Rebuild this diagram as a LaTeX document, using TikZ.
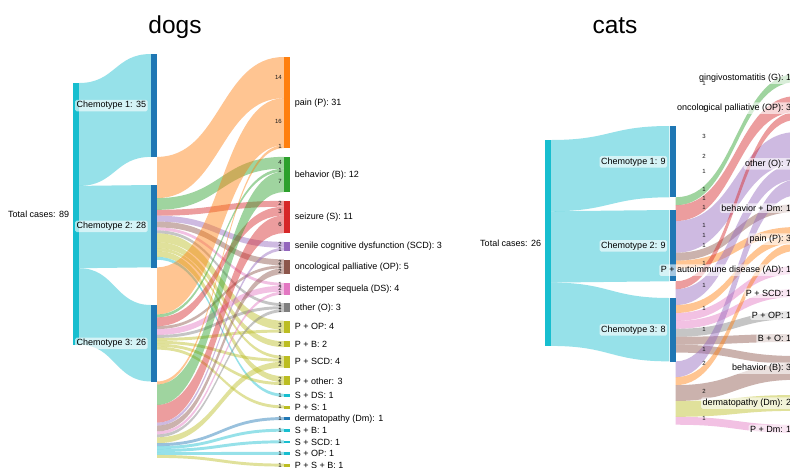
\documentclass[tikz,border=0pt]{standalone}
\usepackage{fontspec}
\setmainfont{Liberation Sans}
\usetikzlibrary{calc}

\definecolor{pblue}{HTML}{1F77B4}
\definecolor{porange}{HTML}{FF7F0E}
\definecolor{pgreen}{HTML}{2CA02C}
\definecolor{pred}{HTML}{D62728}
\definecolor{ppurple}{HTML}{9467BD}
\definecolor{pbrown}{HTML}{8C564B}
\definecolor{ppink}{HTML}{E377C2}
\definecolor{pgray}{HTML}{7F7F7F}
\definecolor{polive}{HTML}{BCBD22}
\definecolor{pcyan}{HTML}{17BECF}

\pgfdeclarelayer{links}
\pgfsetlayers{links,main}

\tikzset{
  bar/.style={inner sep=0pt, minimum width=6pt, anchor=north},
  lab/.style={font=\fontsize{9}{10}\selectfont, fill=white, fill opacity=.6, text opacity=1, rounded corners=1.5pt, inner sep=1.5pt},
  val/.style={font=\fontsize{6}{6}\selectfont, inner sep=.4pt, text=black!90},
  ttl/.style={font=\fontsize{24.5}{26}\selectfont, anchor=base, inner sep=0pt}
}

\newif\ifshowval
% band from #1 to #2, value #3, colour #4
\newcommand{\flow}[4]{%
  \pgfmathsetmacro{\ya}{\csname off#1\endcsname}%
  \pgfmathsetmacro{\za}{\csname off#2\endcsname}%
  \pgfmathsetmacro{\yb}{\ya+#3*\pxu}%
  \pgfmathsetmacro{\zb}{\za+#3*\pxu}%
  \expandafter\xdef\csname off#1\endcsname{\yb}%
  \expandafter\xdef\csname off#2\endcsname{\zb}%
  \coordinate (s1) at ($(#1.north east)+(0,\ya)$);
  \coordinate (s2) at ($(#1.north east)+(0,\yb)$);
  \coordinate (t1) at ($(#2.north west)+(0,\za)$);
  \coordinate (t2) at ($(#2.north west)+(0,\zb)$);
  \coordinate (m) at ($(s1)!.5!(t1)$);
  \begin{pgfonlayer}{links}
  \fill[#4, fill opacity=.45] (s1) .. controls (m |- s1) and (m |- t1) .. (t1)
    -- (t2) .. controls (m |- t2) and (m |- s2) .. (s2) -- cycle;
  \end{pgfonlayer}
  \ifshowval \node[val, anchor=east] (v#1#2) at ($(t1)!.5!(t2)+(-1.5,0)$) {#3};\fi
}

\begin{document}
\begin{tikzpicture}[x=1pt, y=-1pt]
\useasboundingbox (0,0) rectangle (790,467);
\begin{pgfonlayer}{links}
\fill[white] (0,0) rectangle (790,467);
\end{pgfonlayer}

%% dogs
\def\pxu{2.94}
\showvaltrue
\node[ttl] (tdogs) at (175,33) {dogs};

\foreach \nd/\val/\col/\xx/\ytop in {dtot/89/pcyan/76/83, dch1/35/pblue/154/54,
    dch2/28/pblue/154/185, dch3/26/pblue/154/305} {
  \node[bar, fill=\col, minimum height=\val*\pxu] (\nd) at (\xx,\ytop) {};
  \expandafter\xdef\csname off\nd\endcsname{0}
}

\gdef\cum{0}
\foreach \nd/\val/\col/\txt [count=\i from 0] in {
    dP/31/porange/pain (P): 31,
    dB/12/pgreen/behavior (B): 12,
    dS/11/pred/seizure (S): 11,
    dSCD/3/ppurple/senile cognitive dysfunction (SCD): 3,
    dOP/5/pbrown/oncological palliative (OP): 5,
    dDS/4/ppink/distemper sequela (DS): 4,
    dO/3/pgray/other (O): 3,
    dPOP/4/polive/P + OP: 4,
    dPB/2/polive/P + B: 2,
    dPSCD/4/polive/P + SCD: 4,
    dPO/3/polive/P + other: 3,
    dSDS/1/pcyan/S + DS: 1,
    dPS/1/polive/P + S: 1,
    dDm/1/pblue/dermatopathy (Dm): 1,
    dSB/1/pcyan/S + B: 1,
    dSSCD/1/pcyan/S + SCD: 1,
    dSOP/1/pcyan/S + OP: 1,
    dPSB/1/polive/P + S + B: 1} {
  \pgfmathsetmacro{\ytop}{57+\cum*\pxu+\i*8.7}
  \node[bar, fill=\col, minimum height=\val*\pxu] (\nd) at (287,\ytop) {};
  \node[lab, anchor=west] (l\nd) at ($(\nd.east)+(3,0)$) {\txt};
  \expandafter\xdef\csname off\nd\endcsname{0}
  \pgfmathsetmacro{\newcum}{\cum+\val}
  \xdef\cum{\newcum}
}

\showvalfalse
\flow{dtot}{dch1}{35}{pcyan}
\flow{dtot}{dch2}{28}{pcyan}
\flow{dtot}{dch3}{26}{pcyan}
\showvaltrue
% chemotype 1
\flow{dch1}{dP}{14}{porange}
\flow{dch1}{dB}{4}{pgreen}
\flow{dch1}{dS}{2}{pred}
\flow{dch1}{dSCD}{2}{ppurple}
\flow{dch1}{dOP}{2}{pbrown}
\flow{dch1}{dDS}{1}{ppink}
\flow{dch1}{dO}{1}{pgray}
\flow{dch1}{dPOP}{3}{polive}
\flow{dch1}{dPB}{2}{polive}
\flow{dch1}{dPSCD}{1}{polive}
\flow{dch1}{dPO}{2}{polive}
\flow{dch1}{dSDS}{1}{pcyan}
% chemotype 2
\flow{dch2}{dP}{16}{porange}
\flow{dch2}{dB}{1}{pgreen}
\flow{dch2}{dS}{3}{pred}
\flow{dch2}{dOP}{1}{pbrown}
\flow{dch2}{dDS}{2}{ppink}
\flow{dch2}{dO}{1}{pgray}
\flow{dch2}{dPOP}{1}{polive}
\flow{dch2}{dPSCD}{1}{polive}
\flow{dch2}{dPO}{1}{polive}
\flow{dch2}{dPS}{1}{polive}
% chemotype 3
\flow{dch3}{dP}{1}{porange}
\flow{dch3}{dB}{7}{pgreen}
\flow{dch3}{dS}{6}{pred}
\flow{dch3}{dSCD}{1}{ppurple}
\flow{dch3}{dOP}{2}{pbrown}
\flow{dch3}{dDS}{1}{ppink}
\flow{dch3}{dO}{1}{pgray}
\flow{dch3}{dPSCD}{2}{polive}
\flow{dch3}{dDm}{1}{pblue}
\flow{dch3}{dSB}{1}{pcyan}
\flow{dch3}{dSSCD}{1}{pcyan}
\flow{dch3}{dSOP}{1}{pcyan}
\flow{dch3}{dPSB}{1}{polive}

\node[lab, anchor=east] (ldtot) at ($(dtot.west)+(-2,0)$) {Total cases: 89};
\node[lab, anchor=east] (ldch1) at ($(dch1.west)+(-3,0)$) {Chemotype 1: 35};
\node[lab, anchor=east] (ldch2) at ($(dch2.west)+(-3,0)$) {Chemotype 2: 28};
\node[lab, anchor=east] (ldch3) at ($(dch3.west)+(-3,0)$) {Chemotype 3: 26};

%% cats
\def\pxu{7.92}
\showvalfalse
\node[ttl] (tcats) at (615,33) {cats};

\foreach \nd/\val/\col/\xx/\ytop in {ctot/26/pcyan/548/140, cch1/9/pblue/672.5/126,
    cch2/9/pblue/672.5/210, cch3/8/pblue/672.5/298} {
  \node[bar, fill=\col, minimum height=\val*\pxu] (\nd) at (\xx,\ytop) {};
  \expandafter\xdef\csname off\nd\endcsname{0}
}

\foreach \nd/\val/\col/\ytop/\txt in {
    cG/1/pgreen/74/gingivostomatitis (G): 1,
    cOP/3/pred/96/oncological palliative (OP): 3,
    cO/8/ppurple/132/other (O): 7,
    cBDm/1/pbrown/204/behavior + Dm: 1,
    cP/3/porange/227/pain (P): 3,
    cPAD/1/ppink/266/P + autoimmune disease (AD): 1,
    cPSCD/1/ppink/289/P + SCD: 1,
    cPOP/1/pgray/311/P + OP: 1,
    cBO/1/pbrown/334/B + O: 1,
    cB/3/pbrown/356/behavior (B): 3,
    cDm/2/polive/395/dermatopathy (Dm): 2,
    cPDm/1/ppink/425/P + Dm: 1} {
  \node[bar, fill=\col, minimum height=\val*\pxu] (\nd) at (800,\ytop) {};
  \expandafter\xdef\csname off\nd\endcsname{0}
}

\flow{ctot}{cch1}{9}{pcyan}
\flow{ctot}{cch2}{9}{pcyan}
\flow{ctot}{cch3}{8}{pcyan}
% chemotype 1
\flow{cch1}{cG}{1}{pgreen}
\flow{cch1}{cOP}{2}{pred}
\flow{cch1}{cO}{4}{ppurple}
\flow{cch1}{cBDm}{1}{pbrown}
\flow{cch1}{cP}{1}{porange}
% chemotype 2
\flow{cch2}{cOP}{1}{pred}
\flow{cch2}{cO}{2}{ppurple}
\flow{cch2}{cP}{1}{porange}
\flow{cch2}{cPAD}{1}{ppink}
\flow{cch2}{cPSCD}{1}{ppink}
\flow{cch2}{cPOP}{1}{pgray}
\flow{cch2}{cBO}{1}{pbrown}
\flow{cch2}{cB}{1}{pbrown}
% chemotype 3
\flow{cch3}{cO}{2}{ppurple}
\flow{cch3}{cP}{1}{porange}
\flow{cch3}{cB}{2}{pbrown}
\flow{cch3}{cDm}{2}{polive}
\flow{cch3}{cPDm}{1}{ppink}

\node[lab, anchor=east] (lctot) at ($(ctot.west)+(-2,0)$) {Total cases: 26};
\node[lab, anchor=east] (lcch1) at ($(cch1.west)+(-2,0)$) {Chemotype 1: 9};
\node[lab, anchor=east] (lcch2) at ($(cch2.west)+(-2,0)$) {Chemotype 2: 9};
\node[lab, anchor=east] (lcch3) at ($(cch3.west)+(-2,0)$) {Chemotype 3: 8};
\foreach \nd/\txt in {cG/gingivostomatitis (G): 1, cOP/oncological palliative (OP): 3,
    cO/other (O): 7, cBDm/behavior + Dm: 1, cP/pain (P): 3,
    cPAD/P + autoimmune disease (AD): 1, cPSCD/P + SCD: 1, cPOP/P + OP: 1,
    cBO/B + O: 1, cB/behavior (B): 3, cDm/dermatopathy (Dm): 2, cPDm/P + Dm: 1}
  \node[lab, anchor=east] (l\nd) at ($(\nd.west)+(-4,0)$) {\txt};

\foreach \yy/\v [count=\j] in {83/1, 108/1, 136/3, 156/2, 171/1, 189/1, 198/1, 207/1,
    225/1, 235/1, 245/1, 263/1, 285/1, 308/1, 329/1, 349/1, 363/2, 391/2, 418/1}
  \node[val] (cv\j) at (704,\yy) {\v};

\end{tikzpicture}
\end{document}
